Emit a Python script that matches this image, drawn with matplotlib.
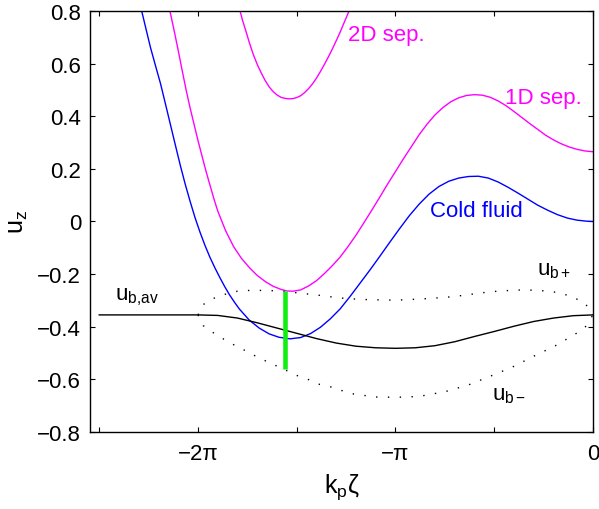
import numpy as np
import matplotlib
matplotlib.use("Agg")
import matplotlib.pyplot as plt

plt.rcParams['font.family'] = ['Liberation Sans', 'DejaVu Sans']
plt.rcParams['mathtext.fontset'] = 'custom'
plt.rcParams['mathtext.rm'] = 'Liberation Sans'
plt.rcParams['mathtext.it'] = 'Liberation Sans'
plt.rcParams['mathtext.default'] = 'regular'

# positions are given in units of pi (k_p*zeta / pi)
cold_zeta_pi = [-2.285, -2.26, -2.24, -2.215, -2.19, -2.165, -2.14, -2.115, -2.09, -2.065,
                -2.04, -2.015, -1.99, -1.965, -1.94, -1.915, -1.89, -1.865, -1.84, -1.815,
                -1.79, -1.74, -1.69, -1.64, -1.59, -1.534, -1.48, -1.43, -1.38, -1.33,
                -1.28, -1.23, -1.18, -1.13, -1.08, -1.03, -0.98, -0.93, -0.88, -0.83,
                -0.78, -0.73, -0.68, -0.63, -0.58, -0.53, -0.48, -0.43, -0.38, -0.33,
                -0.28, -0.23, -0.18, -0.13, -0.08, -0.03, 0.0]
cold_uz = [0.80, 0.722, 0.66, 0.592, 0.525, 0.448, 0.37, 0.292, 0.215, 0.143,
           0.077, 0.015, -0.040, -0.090, -0.135, -0.175, -0.212, -0.247, -0.279, -0.307,
           -0.333, -0.375, -0.405, -0.427, -0.440, -0.446, -0.441, -0.426, -0.402, -0.370,
           -0.332, -0.285, -0.235, -0.185, -0.133, -0.080, -0.028, 0.022, 0.066, 0.104,
           0.133, 0.153, 0.165, 0.171, 0.172, 0.165, 0.150, 0.130, 0.108, 0.085,
           0.062, 0.043, 0.026, 0.013, 0.005, 0.001, 0.0]

sep1d_zeta_pi = [-2.142, -2.12, -2.10, -2.08, -2.06, -2.04, -2.02, -2.00, -1.98, -1.96,
                 -1.94, -1.92, -1.90, -1.86, -1.82, -1.78,
                 -1.74, -1.70, -1.66, -1.62, -1.58, -1.55, -1.52, -1.48, -1.44, -1.40,
                 -1.36, -1.32, -1.28, -1.24, -1.20, -1.16, -1.12, -1.08, -1.04, -1.00,
                 -0.96, -0.92, -0.88, -0.84, -0.80, -0.76, -0.72, -0.68, -0.64, -0.60,
                 -0.56, -0.52, -0.48, -0.44, -0.40, -0.36, -0.32, -0.28, -0.24, -0.20,
                 -0.16, -0.12, -0.08, -0.04, 0.0]
sep1d_uz = [0.80, 0.723, 0.65, 0.574, 0.50, 0.432, 0.37, 0.308, 0.25, 0.193,
            0.14, 0.088, 0.04, -0.035, -0.095, -0.140,
            -0.175, -0.205, -0.228, -0.246, -0.258, -0.264, -0.265, -0.260, -0.245, -0.225,
            -0.198, -0.168, -0.135, -0.095, -0.052, -0.005, 0.043, 0.092, 0.142, 0.190,
            0.238, 0.284, 0.330, 0.370, 0.405, 0.433, 0.455, 0.470, 0.479, 0.482,
            0.480, 0.472, 0.458, 0.440, 0.418, 0.395, 0.372, 0.350, 0.328, 0.310,
            0.295, 0.283, 0.274, 0.268, 0.265]

sep2d_zeta_pi = [-1.787, -1.775, -1.76, -1.74, -1.72, -1.70, -1.68, -1.66, -1.64, -1.62,
                 -1.60, -1.58, -1.56, -1.54, -1.52, -1.50, -1.48, -1.46, -1.44, -1.42,
                 -1.40, -1.38, -1.36, -1.34, -1.32, -1.30, -1.28, -1.26, -1.235]
sep2d_uz = [0.80, 0.766, 0.73, 0.680, 0.635, 0.597, 0.565, 0.536, 0.512, 0.494,
            0.481, 0.472, 0.468, 0.466, 0.467, 0.471, 0.478, 0.490, 0.505, 0.523,
            0.545, 0.570, 0.597, 0.625, 0.655, 0.687, 0.720, 0.756, 0.80]

ubav_zeta_pi = [-2.5, -2.0, -1.9, -1.8, -1.7, -1.6, -1.5, -1.4, -1.3, -1.2, -1.1, -1.0,
                -0.9, -0.8, -0.7, -0.6, -0.5, -0.4, -0.3, -0.2, -0.1, 0.0]
ubav_uz = [-0.355, -0.355, -0.357, -0.367, -0.385, -0.405, -0.425, -0.445, -0.462, -0.474,
           -0.480, -0.482, -0.480, -0.472, -0.457, -0.437, -0.418, -0.398, -0.380, -0.367,
           -0.358, -0.355]

ubp_zeta_pi = [-2.0, -1.97, -1.92, -1.86, -1.80, -1.74, -1.68, -1.62, -1.56, -1.50,
               -1.44, -1.38, -1.32, -1.26, -1.20, -1.14, -1.08, -1.00, -0.94, -0.88,
               -0.82, -0.76, -0.70, -0.64, -0.58, -0.52, -0.46, -0.40, -0.34, -0.28,
               -0.22, -0.16, -0.10, -0.04, 0.0]
ubp_uz = [-0.355, -0.314, -0.292, -0.276, -0.265, -0.262, -0.262, -0.263, -0.266, -0.271,
          -0.276, -0.281, -0.287, -0.292, -0.295, -0.297, -0.298, -0.299, -0.297, -0.295,
          -0.292, -0.289, -0.285, -0.279, -0.273, -0.267, -0.264, -0.261, -0.260, -0.262,
          -0.265, -0.273, -0.288, -0.311, -0.355]

ubm_zeta_pi = [-2.0, -1.973, -1.92, -1.87, -1.82, -1.77, -1.715, -1.66, -1.605, -1.55,
               -1.50, -1.44, -1.39, -1.32, -1.27, -1.21, -1.15, -1.10, -1.00, -0.93,
               -0.86, -0.75, -0.63, -0.52, -0.41, -0.30, -0.19, -0.09, -0.04, 0.0]
ubm_uz = [-0.355, -0.396, -0.424, -0.447, -0.468, -0.487, -0.509, -0.529, -0.548, -0.567,
          -0.585, -0.601, -0.618, -0.630, -0.643, -0.656, -0.662, -0.667, -0.668, -0.667,
          -0.662, -0.647, -0.621, -0.588, -0.554, -0.512, -0.472, -0.428, -0.402, -0.355]

# momentum spread marker at the 1D separatrix minimum
bar_zeta_pi = -1.561
bar_uz = [-0.265, -0.561]

xtick_pi = [-2.5, -2.0, -1.5, -1.0, -0.5, 0.0]
xtick_labels = ['', '\u22122\u03c0', '', '\u2212\u03c0', '', '0']
ytick_vals = [-0.8, -0.6, -0.4, -0.2, 0.0, 0.2, 0.4, 0.6, 0.8]
ytick_labels = ['\u22120.8', '\u22120.6', '\u22120.4', '\u22120.2', '0', '0.2', '0.4', '0.6', '0.8']

pi = np.pi
fig = plt.figure(figsize=(5.99, 5.10), dpi=100)
ax = fig.add_axes([0.1503, 0.151, 0.8397, 0.8255])

ax.plot(pi * np.array(cold_zeta_pi), cold_uz, color='#0000ff', lw=1.0)
ax.plot(pi * np.array(sep1d_zeta_pi), sep1d_uz, color='#ff00ff', lw=1.0)
ax.plot(pi * np.array(sep2d_zeta_pi), sep2d_uz, color='#ff00ff', lw=1.0)
ax.plot(pi * np.array(ubav_zeta_pi), ubav_uz, color='black', lw=1.0)
ax.plot(pi * np.array(ubp_zeta_pi), ubp_uz, color='black', lw=1.0,
        linestyle=(0, (1.0, 7.5)))
ax.plot(pi * np.array(ubm_zeta_pi), ubm_uz, color='black', lw=1.0,
        linestyle=(0, (1.0, 7.5)))
ax.plot([pi * bar_zeta_pi] * 2, bar_uz, color='#11ee11', lw=3.3, solid_capstyle='butt')

fs = 16
ax.text(pi * -1.239, 0.691, '2D sep.', color='#ff00ff', fontsize=fs, ha='left', va='baseline')
ax.text(pi * -0.446, 0.449, '1D sep.', color='#ff00ff', fontsize=fs, ha='left', va='baseline')
ax.text(pi * -0.825, 0.020, 'Cold fluid', color='#0000ff', fontsize=fs, ha='left', va='baseline')
ax.text(pi * -2.418, -0.295, r'$u_{b{,}av}$', color='black', fontsize=fs, ha='left', va='baseline')
ax.text(pi * -0.285, -0.200, r'$u_{b+}$', color='black', fontsize=fs, ha='left', va='baseline')
ax.text(pi * -0.513, -0.675, '$u_{b\u2212}$', color='black', fontsize=fs, ha='left', va='baseline')

ax.set_xlim(-8.0, 0.0)
ax.set_ylim(-0.8, 0.8)
ax.set_xticks(pi * np.array(xtick_pi))
ax.set_xticklabels(xtick_labels)
ax.set_yticks(ytick_vals)
ax.set_yticklabels(ytick_labels)
ax.tick_params(direction='in', length=3.5, width=0.8, top=True, right=True,
               labelsize=fs)
ax.tick_params(axis='x', pad=8)
ax.tick_params(axis='y', pad=6.5)
for sp in ax.spines.values():
    sp.set_linewidth(1.0)

ax.set_xlabel(r'$k_p$' + '\u03b6', fontsize=18, labelpad=5)
ax.set_ylabel(r'$u_z$', fontsize=18, labelpad=5)

fig.savefig('out.png', dpi=100)
